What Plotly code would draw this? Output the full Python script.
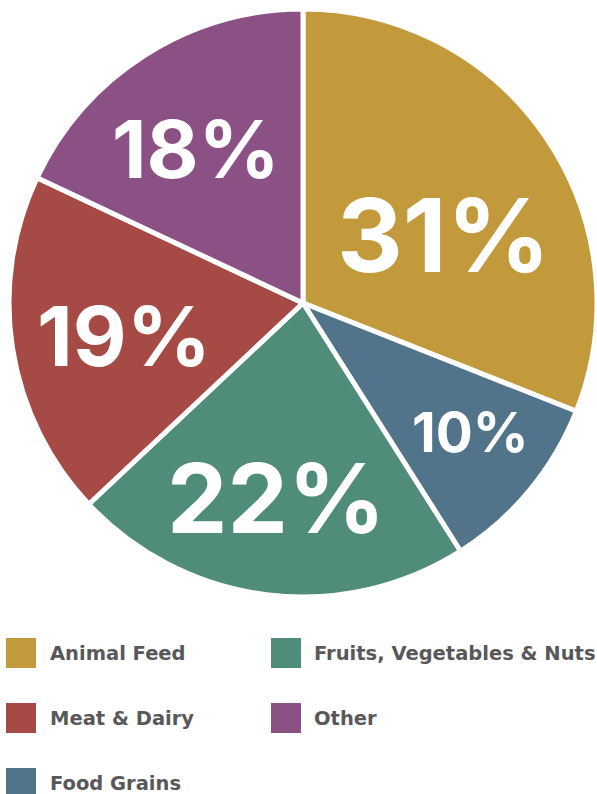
import math
import plotly.graph_objects as go

# Share of total, by category (clockwise from 12 o'clock)
categories = ["Animal Feed", "Food Grains", "Fruits, Vegetables & Nuts", "Meat & Dairy", "Other"]
shares = [31, 10, 22, 19, 18]

# Legend reading order (two columns, row by row)
legend_order = ["Animal Feed", "Fruits, Vegetables & Nuts", "Meat & Dairy", "Other", "Food Grains"]

colors = {
    "Animal Feed": "#C39A3B",
    "Food Grains": "#52748B",
    "Fruits, Vegetables & Nuts": "#508C7A",
    "Meat & Dairy": "#A64A45",
    "Other": "#8B5184",
}

W, H = 597, 794
CX, CY, R = 303, 303, 294  # pie centre and radius in pixels

# label placement inside each slice: angle nudge (deg) and radius fraction, plus font size
label_nudge = [8.3, -2.1, 0.7, -1.4, -2.4]
label_rfrac = [0.53, 0.72, 0.67, 0.62, 0.64]
label_size = [102, 55, 96, 83, 80]

FONT = "Inter"
LEGEND_FONT = "DejaVu Sans"


def px(x):
    return x / W


def py(y):
    return 1 - y / H


fig = go.Figure(
    go.Pie(
        labels=categories,
        values=shares,
        sort=False,
        direction="clockwise",
        rotation=0,
        marker=dict(colors=[colors[c] for c in categories], line=dict(color="white", width=5)),
        textinfo="none",
        hoverinfo="label+percent",
        showlegend=False,
        domain=dict(x=[px(CX - R), px(CX + R)], y=[py(CY + R), py(CY - R)]),
    )
)

annotations = []
total = sum(shares)
start = 0.0
for i, (cat, v) in enumerate(zip(categories, shares)):
    span = v / total * 360
    ang = math.radians(start + span / 2 + label_nudge[i])
    r = R * label_rfrac[i]
    x = CX + r * math.sin(ang)
    y = CY - r * math.cos(ang)
    annotations.append(dict(
        x=px(x), y=py(y), xref="paper", yref="paper",
        text=f"{round(v / total * 100)}%", showarrow=False,
        xanchor="center", yanchor="middle",
        font=dict(family=FONT, size=label_size[i], color="white", weight=700),
    ))
    start += span

shapes = []
col_sq = [6, 271]
col_tx = [48, 312]
row_cy = [653, 718, 783]
SQ = 30
for k, cat in enumerate(legend_order):
    row, col = divmod(k, 2)
    yc = row_cy[row]
    shapes.append(dict(
        type="rect", xref="paper", yref="paper",
        x0=px(col_sq[col]), x1=px(col_sq[col] + SQ),
        y0=py(yc + SQ / 2), y1=py(yc - SQ / 2),
        fillcolor=colors[cat], line=dict(width=0),
    ))
    annotations.append(dict(
        x=px(col_tx[col]), y=py(yc), xref="paper", yref="paper",
        text=cat, showarrow=False, xanchor="left", yanchor="middle",
        font=dict(family=LEGEND_FONT, size=19.5, color="#58585A", weight=700),
    ))

fig.update_layout(
    width=W, height=H,
    margin=dict(l=0, r=0, t=0, b=0),
    paper_bgcolor="white", plot_bgcolor="white",
    annotations=annotations, shapes=shapes,
)

fig.write_html("out.html", config={"displayModeBar": False})
